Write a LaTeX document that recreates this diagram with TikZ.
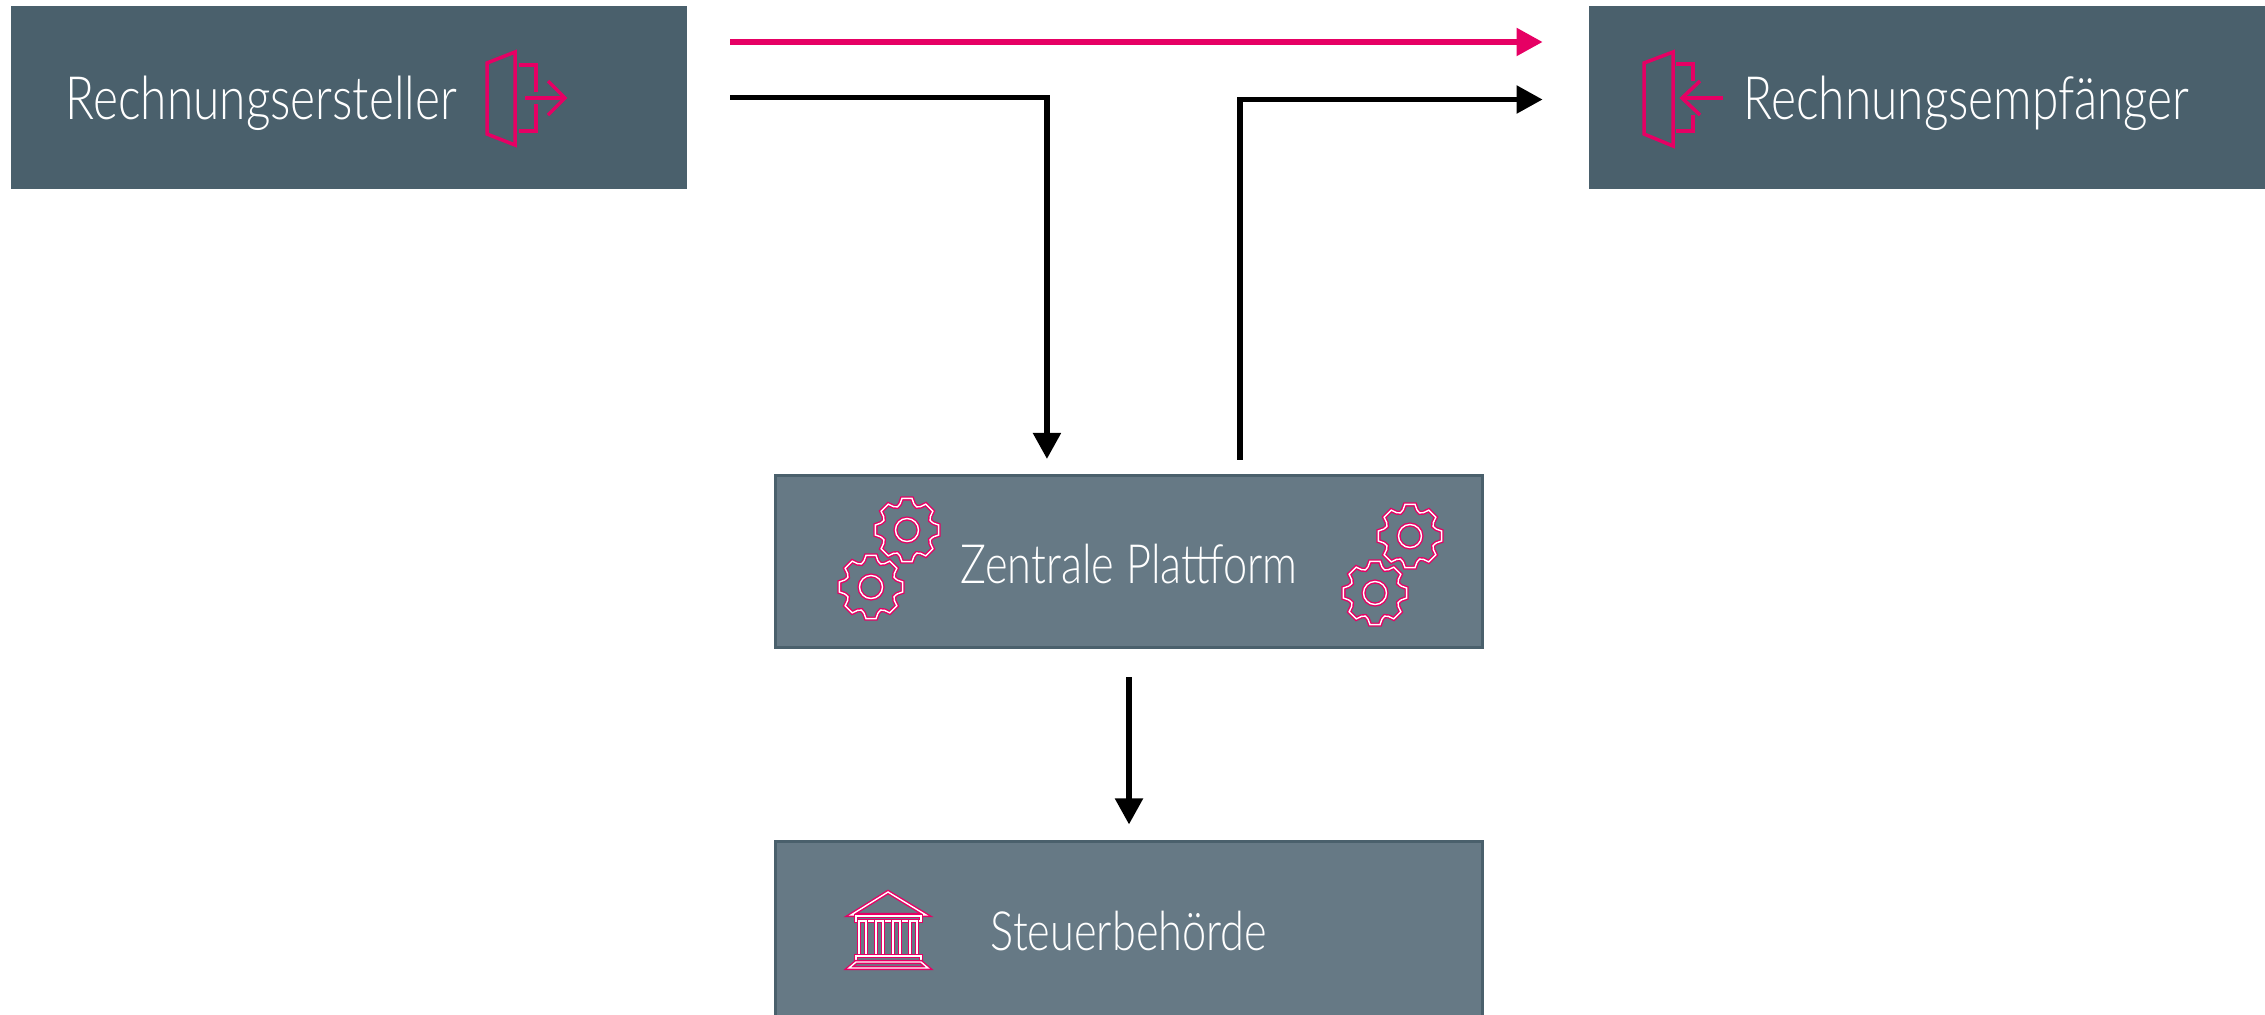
\documentclass[tikz,border=0pt]{standalone}
\usepackage{fontspec}
\setmainfont[UprightFont=*-Light,FakeStretch=0.8]{Lato}
\usepackage{tikz}
\usetikzlibrary{arrows.meta,positioning}
\definecolor{rbdark}{RGB}{74,96,108}
\definecolor{rbmid}{RGB}{102,121,133}
\definecolor{rbpink}{RGB}{230,0,100}
\tikzstyle{flow} = [line width=0.053cm,->,>={Triangle[length=0.26cm,width=0.27cm]},color=black]
\tikzstyle{pinkflow} = [flow,color=rbpink]
\tikzstyle{topbox} = [fill=rbdark,minimum width=6.75cm,minimum height=1.83cm,inner sep=0pt]
\tikzstyle{midbox} = [fill=rbmid,draw=rbdark,line width=0.03cm,minimum width=7.06cm,inner sep=0pt]
\tikzstyle{boxtext} = [text=white,inner sep=0pt,anchor=base]
\tikzstyle{bigtext} = [boxtext,anchor=base west,font=\fontsize{17}{19}\selectfont]
\tikzstyle{midtext} = [boxtext,font=\fontsize{15.4}{17}\selectfont]
\tikzstyle{doorline} = [draw=rbpink,line width=0.035cm]
\tikzstyle{iconline} = [draw=rbpink,double=white,line width=0.014cm,double distance=0.014cm]
\tikzset{
  gearicon/.pic={
    \path[iconline] (-22.5:25) \foreach \a in {0,45,...,315} {
      -- (\a-15:27) -- (\a-9:32) -- (\a+9:32) -- (\a+15:27) -- (\a+22.5:25)} -- cycle;
    \path[iconline] (0,0) circle (11.5);
  }
}

\begin{document}
\begin{tikzpicture}[x=0.01cm,y=-0.01cm]
\useasboundingbox (0,0) rectangle (2265,1014);

% Boxes
\node[topbox] (creator) at (349,97.5) {};
\node[topbox] (receiver) at (1927,97.5) {};
\node[midbox,minimum height=1.72cm] (platform) at (1129,561.5) {};
\node[midbox,minimum height=1.80cm] (taxoffice) at (1129,932) {};

% Labels
\node[bigtext] (creatorlabel) at (65,119) {Rechnungsersteller};
\node[bigtext] (receiverlabel) at (1743,119) {Rechnungsempfänger};
\node[midtext] (platformlabel) at (1129,583) {Zentrale Plattform};
\node[midtext] (taxlabel) at (1129,950) {Steuerbehörde};

% Connectors
\draw[pinkflow,shorten <=0.43cm,shorten >=0.46cm] ([yshift=0.555cm]creator.east) -- ([yshift=0.555cm]receiver.west);
\draw[flow,shorten <=0.43cm,shorten >=0.15cm] (creator.east) -| ([xshift=-0.82cm]platform.north);
\draw[flow,shorten <=0.14cm,shorten >=0.46cm] ([xshift=1.11cm]platform.north) |- ([yshift=-0.02cm]receiver.west);
\draw[flow,shorten <=0.28cm,shorten >=0.16cm] (platform.south) -- (taxoffice.north);

% Door out
\draw[doorline] (487,63) -- (515,52) -- (515,145) -- (487,134) -- cycle;
\draw[doorline] (519,65) -- (536,65) -- (536,92);
\draw[doorline] (536,104) -- (536,131) -- (519,131);
\draw[doorline] (525,98) -- (565,98);
\draw[doorline] (548,81) -- (565,98) -- (548,115);

% Door in
\draw[doorline] (1644,63) -- (1673,52) -- (1673,146) -- (1644,134) -- cycle;
\draw[doorline] (1676,64) -- (1693,64) -- (1693,81);
\draw[doorline] (1693,115) -- (1693,131) -- (1676,131);
\draw[doorline] (1723,98) -- (1682,98);
\draw[doorline] (1700,81) -- (1682,98) -- (1700,115);

% Gears
\pic at (907,530) {gearicon};
\pic at (871,587) {gearicon};
\pic at (1410,536) {gearicon};
\pic at (1375,593) {gearicon};

% Temple
\path[iconline] (851,915) -- (888,892) -- (926,915) -- cycle;
\path[iconline] (856,916) rectangle (921,921);
\foreach \c in {859,876,893,910} {
  \path[iconline] (\c,921) rectangle (\c+7,956);
}
\path[iconline] (856,956) rectangle (921,962);
\path[iconline] (856,962) -- (921,962) -- (928,968) -- (849,968) -- cycle;
\end{tikzpicture}
\end{document}
